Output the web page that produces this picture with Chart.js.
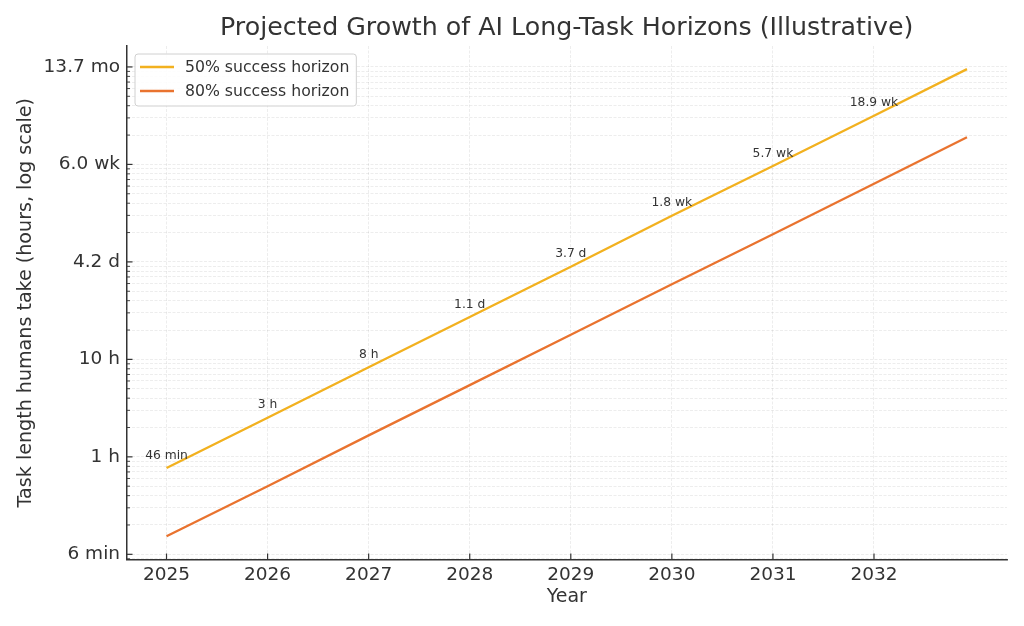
<!DOCTYPE html>
<html>
<head>
<meta charset="utf-8">
<script src="https://cdn.jsdelivr.net/npm/chart.js@4.4.1/dist/chart.umd.min.js"></script>
<style>
  html, body { margin: 0; padding: 0; background: #fff; }
  #wrap { width: 1024px; height: 626px; position: relative; }
</style>
</head>
<body>
<div id="wrap"><canvas id="c" width="1024" height="626"></canvas></div>
<script>
// ---------- data ----------
const years = [2025, 2026, 2027, 2028, 2029, 2030, 2031, 2032, 2032.92];
const success50 = [0.767, 2.52, 8.3, 27.2, 89.3, 297, 962, 3160, 9500];   // hours
const success80 = [0.153, 0.50, 1.66, 5.44, 17.9, 59, 192, 632, 1900];    // hours
const labels50 = ['46 min', '3 h', '8 h', '1.1 d', '3.7 d', '1.8 wk', '5.7 wk', '18.9 wk'];
const xTicks = [2025, 2026, 2027, 2028, 2029, 2030, 2031, 2032];
const yMajorTicks = [0.1, 1, 10, 100, 1000, 10000];
const yTickLabels = ['6 min', '1 h', '10 h', '4.2 d', '6.0 wk', '13.7 mo'];
const seriesNames = ['50% success horizon', '80% success horizon'];
const seriesColors = ['#f2b11f', '#e9732f'];

const FONT = '"DejaVu Sans", "Liberation Sans", sans-serif';
const TEXT = '#333333';

const isMajor = v => yMajorTicks.some(m => Math.abs(v - m) / m < 1e-6);

const bgPlugin = {
  id: 'bg',
  beforeDraw(chart) {
    const ctx = chart.ctx;
    ctx.save();
    ctx.fillStyle = '#ffffff';
    ctx.fillRect(0, 0, chart.width, chart.height);
    ctx.restore();
  }
};

const titlePlugin = {
  id: 'ttl',
  afterDraw(chart) {
    const ctx = chart.ctx, ca = chart.chartArea;
    ctx.save();
    ctx.font = '25.3px ' + FONT;
    ctx.fillStyle = TEXT;
    ctx.textAlign = 'center';
    ctx.textBaseline = 'alphabetic';
    ctx.fillText('Projected Growth of AI Long-Task Horizons (Illustrative)', (ca.left + ca.right) / 2, 35);
    ctx.restore();
  }
};

const inTicksPlugin = {
  id: 'inticks',
  afterDatasetsDraw(chart) {
    const ctx = chart.ctx, ca = chart.chartArea;
    const ys = chart.scales.y, xs = chart.scales.x;
    ctx.save();
    ctx.strokeStyle = '#333';
    ys.ticks.forEach(t => {
      const y = ys.getPixelForValue(t.value);
      const major = isMajor(t.value);
      ctx.lineWidth = major ? 1.2 : 0.9;
      ctx.beginPath();
      ctx.moveTo(ca.left, y);
      ctx.lineTo(ca.left + (major ? 6 : 3.5), y);
      ctx.stroke();
    });
    ctx.lineWidth = 1.2;
    xs.ticks.forEach(t => {
      const x = xs.getPixelForValue(t.value);
      ctx.beginPath();
      ctx.moveTo(x, ca.bottom);
      ctx.lineTo(x, ca.bottom - 6);
      ctx.stroke();
    });
    ctx.restore();
  }
};

const pointLabelPlugin = {
  id: 'plabels',
  afterDatasetsDraw(chart) {
    const ctx = chart.ctx;
    const meta = chart.getDatasetMeta(0);
    ctx.save();
    ctx.font = '12.3px ' + FONT;
    ctx.fillStyle = TEXT;
    ctx.textAlign = 'center';
    ctx.textBaseline = 'alphabetic';
    labels50.forEach((lab, i) => {
      const p = meta.data[i];
      ctx.fillText(lab, p.x, p.y - 9.5);
    });
    ctx.restore();
  }
};

const legendPlugin = {
  id: 'boxlegend',
  afterDraw(chart) {
    const ctx = chart.ctx, ca = chart.chartArea;
    ctx.save();
    ctx.font = '15.7px ' + FONT;
    const tw = Math.max(...seriesNames.map(s => ctx.measureText(s).width));
    const bx = ca.left + 8.5, by = ca.top + 8;
    const bw = 50 + tw + 7, bh = 52;
    const r = 3;
    ctx.beginPath();
    ctx.moveTo(bx + r, by);
    ctx.lineTo(bx + bw - r, by);
    ctx.quadraticCurveTo(bx + bw, by, bx + bw, by + r);
    ctx.lineTo(bx + bw, by + bh - r);
    ctx.quadraticCurveTo(bx + bw, by + bh, bx + bw - r, by + bh);
    ctx.lineTo(bx + r, by + bh);
    ctx.quadraticCurveTo(bx, by + bh, bx, by + bh - r);
    ctx.lineTo(bx, by + r);
    ctx.quadraticCurveTo(bx, by, bx + r, by);
    ctx.closePath();
    ctx.fillStyle = 'rgba(255,255,255,0.85)';
    ctx.fill();
    ctx.strokeStyle = '#d0d0d0';
    ctx.lineWidth = 1;
    ctx.stroke();
    seriesNames.forEach((name, i) => {
      const y = by + 13 + i * 24;
      ctx.strokeStyle = seriesColors[i];
      ctx.lineWidth = 2.3;
      ctx.beginPath();
      ctx.moveTo(bx + 5, y);
      ctx.lineTo(bx + 39, y);
      ctx.stroke();
      ctx.fillStyle = TEXT;
      ctx.textAlign = 'left';
      ctx.textBaseline = 'middle';
      ctx.fillText(name, bx + 50, y + 1);
    });
    ctx.restore();
  }
};

const gridColor = 'rgba(0,0,0,0.09)';

new Chart(document.getElementById('c'), {
  type: 'line',
  data: {
    datasets: [
      {
        label: seriesNames[0],
        data: years.map((x, i) => ({ x, y: success50[i] })),
        borderColor: seriesColors[0],
        borderWidth: 2.3,
        pointRadius: 0,
        tension: 0,
        fill: false
      },
      {
        label: seriesNames[1],
        data: years.map((x, i) => ({ x, y: success80[i] })),
        borderColor: seriesColors[1],
        borderWidth: 2.3,
        pointRadius: 0,
        tension: 0,
        fill: false
      }
    ]
  },
  options: {
    responsive: false,
    animation: false,
    devicePixelRatio: 1,
    layout: { padding: { top: 46, right: 17, bottom: 0, left: 0 } },
    plugins: {
      legend: { display: false },
      title: { display: false },
      tooltip: { enabled: false }
    },
    scales: {
      x: {
        type: 'linear',
        min: 2024.604,
        max: 2033.316,
        afterBuildTicks: s => { s.ticks = xTicks.map(v => ({ value: v })); },
        afterFit: s => { s.height = 66.5; },
        ticks: {
          autoSkip: false,
          maxRotation: 0,
          padding: 5,
          color: TEXT,
          font: { family: FONT, size: 18.5 },
          callback: v => String(v)
        },
        grid: { color: gridColor, lineWidth: 0.8, drawTicks: false },
        border: { display: true, color: '#333', width: 1.5, dash: [3, 1.5] },
        title: {
          display: true, text: 'Year', color: TEXT,
          font: { family: FONT, size: 19 },
          padding: { top: 0, bottom: 18 }
        }
      },
      y: {
        type: 'logarithmic',
        min: 0.0885,
        max: 16400,
        afterBuildTicks: s => {
          const t = [];
          for (let e = -2; e <= 4; e++) {
            for (let m = 1; m <= 9; m++) {
              const v = m * Math.pow(10, e);
              if (v >= s.min && v <= s.max) t.push({ value: v, major: m === 1 });
            }
          }
          s.ticks = t;
        },
        afterFit: s => { s.width = 126.5; },
        ticks: {
          autoSkip: false,
          padding: 6.5,
          color: TEXT,
          font: { family: FONT, size: 18.5 },
          callback: v => {
            const i = yMajorTicks.findIndex(m => Math.abs(v - m) / m < 1e-6);
            return i >= 0 ? yTickLabels[i] : '';
          }
        },
        grid: { color: gridColor, lineWidth: 0.8, drawTicks: false },
        border: { display: true, color: '#333', width: 1.5, dash: [3, 1.5] },
        title: {
          display: true, text: 'Task length humans take (hours, log scale)', color: TEXT,
          font: { family: FONT, size: 19.1 },
          padding: { top: 14.5, bottom: 0 }
        }
      }
    }
  },
  plugins: [bgPlugin, inTicksPlugin, pointLabelPlugin, legendPlugin, titlePlugin]
});
</script>
</body>
</html>
